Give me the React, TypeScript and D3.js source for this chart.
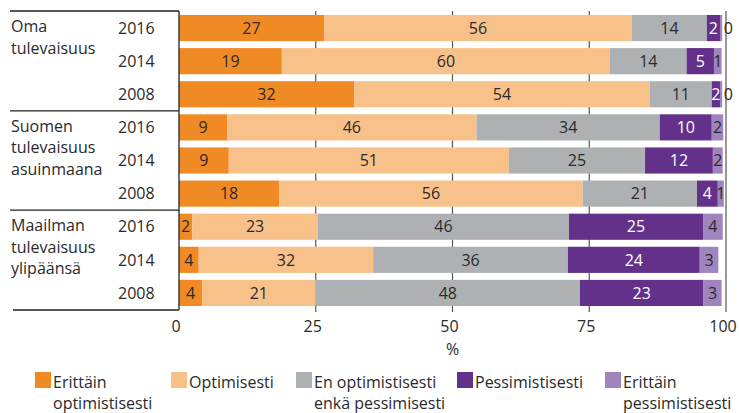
import React from "react";
import * as d3 from "d3";

const groups = [
  { lines: ["Oma", "tulevaisuus"], years: ["2016", "2014", "2008"] },
  { lines: ["Suomen", "tulevaisuus", "asuinmaana"], years: ["2016", "2014", "2008"] },
  { lines: ["Maailman", "tulevaisuus", "ylipäänsä"], years: ["2016", "2014", "2008"] },
];

const seriesNames = [
  "Erittäin optimistisesti",
  "Optimisesti",
  "En optimistisesti enkä pessimisesti",
  "Pessimistisesti",
  "Erittäin pessimistisesti",
];
const legendLines = [
  ["Erittäin", "optimistisesti"],
  ["Optimisesti"],
  ["En optimistisesti", "enkä pessimisesti"],
  ["Pessimistisesti"],
  ["Erittäin", "pessimistisesti"],
];
const colors = ["#F08A24", "#F8C18A", "#AEB1B3", "#63318A", "#A084BD"];
const labelColors = ["#2a2a2a", "#2a2a2a", "#2a2a2a", "#ffffff", "#2a2a2a"];

const veryOptimistic = [26.5, 18.8, 32.0, 8.8, 9.1, 18.3, 2.4, 3.6, 4.2];
const optimistic = [56.3, 60.0, 54.1, 45.6, 51.2, 55.5, 23.0, 31.9, 20.8];
const neutral = [13.7, 14.0, 11.3, 33.5, 24.9, 20.9, 45.9, 35.6, 48.3];
const pessimistic = [2.4, 5.0, 1.5, 9.5, 12.4, 3.8, 24.5, 24.1, 22.6];
const veryPessimistic = [0.4, 1.4, 0.4, 2.1, 1.8, 1.1, 3.6, 3.4, 3.3];

const ticks = [0, 25, 50, 75, 100];
const axisTitle = "%";

const W = 739;
const H = 413;
const FONT = "'Open Sans', 'Noto Sans', sans-serif";

export default function App() {
  const seriesData = [veryOptimistic, optimistic, neutral, pessimistic, veryPessimistic];
  const rows = groups.flatMap((g, gi) => g.years.map((yr, yi) => ({ id: `${gi}-${yi}`, gi, yi, year: yr })));
  const table = rows.map((r, i) => {
    const o: any = { id: r.id };
    seriesNames.forEach((s, si) => (o[s] = seriesData[si][i]));
    return o;
  });
  const stacked = d3.stack().keys(seriesNames)(table as any);

  const x = d3.scaleLinear().domain([0, 100]).range([179, 726]);
  const top = 11;
  const bottom = 310;
  const y = d3
    .scaleBand<string>()
    .domain(rows.map((r) => r.id))
    .range([top, bottom])
    .paddingInner(0.21)
    .paddingOuter(0.12);
  const bw = y.bandwidth();
  const halfGap = (y.step() * y.paddingInner()) / 2;

  const groupTops = groups.map((g, gi) => (gi === 0 ? top : (y(`${gi}-0`) as number) - halfGap));

  const legendX = [35, 171, 296, 457, 605];

  return (
    <svg
      width={W}
      height={H}
      style={{ position: "absolute", left: 0, top: 0, background: "#fff" }}
      fontFamily={FONT}
    >
      {/* gridlines */}
      {ticks.slice(1).map((t) => (
        <line key={t} x1={x(t)} x2={x(t)} y1={top} y2={bottom + 2} stroke="#555" strokeWidth={1.2} />
      ))}
      {/* bars */}
      {stacked.map((layer, si) => (
        <g key={si}>
          {layer.map((d, i) => {
            const id = rows[i].id;
            const x0 = x(d[0]);
            const x1 = x(d[1]);
            const w = x1 - x0;
            const v = seriesData[si][i];
            const yc = (y(id) as number) + bw / 2;
            const outside = w < 5;
            return (
              <g key={id}>
                <rect x={x0} y={y(id)} width={Math.max(0, w)} height={bw} fill={colors[si]} />
                <text
                  x={outside ? x1 + 1.5 : (x0 + x1) / 2}
                  y={yc}
                  dy="0.36em"
                  textAnchor={outside ? "start" : "middle"}
                  fontSize={16}
                  fill={outside ? "#2a2a2a" : labelColors[si]}
                >
                  {Math.round(v)}
                </text>
              </g>
            );
          })}
        </g>
      ))}
      {/* left table lines */}
      {groupTops.map((gy, gi) => (
        <line key={gi} x1={10} x2={179} y1={gy} y2={gy} stroke="#222" strokeWidth={1.3} />
      ))}
      <line x1={13} x2={179} y1={bottom} y2={bottom} stroke="#222" strokeWidth={1.3} />
      <line x1={179} x2={179} y1={top} y2={bottom} stroke="#222" strokeWidth={1.3} />
      {/* group labels */}
      {groups.map((g, gi) => (
        <text key={gi} x={11} y={groupTops[gi] + 21} fontSize={16} fill="#2a2a2a">
          {g.lines.map((l, li) => (
            <tspan key={li} x={11} dy={li === 0 ? 0 : 21.5}>
              {l}
            </tspan>
          ))}
        </text>
      ))}
      {/* years */}
      {rows.map((r) => (
        <text key={r.id} x={118} y={(y(r.id) as number) + bw / 2} dy="0.36em" fontSize={16} fill="#2a2a2a">
          {r.year}
        </text>
      ))}
      {/* axis labels */}
      {ticks.map((t) => (
        <text key={t} x={x(t) - 3} y={332} textAnchor="middle" fontSize={16} fill="#2a2a2a">
          {t}
        </text>
      ))}
      <text x={x(50)} y={355} textAnchor="middle" fontSize={16} fill="#2a2a2a">
        {axisTitle}
      </text>
      {/* legend */}
      {seriesNames.map((s, si) => (
        <g key={s}>
          <rect x={legendX[si]} y={372} width={16} height={16} fill={colors[si]} />
          <text x={legendX[si] + 18} y={387.5} fontSize={16} fill="#2a2a2a">
            {legendLines[si].map((l, li) => (
              <tspan key={li} x={legendX[si] + 18} dy={li === 0 ? 0 : 21.5}>
                {l}
              </tspan>
            ))}
          </text>
        </g>
      ))}
    </svg>
  );
}
